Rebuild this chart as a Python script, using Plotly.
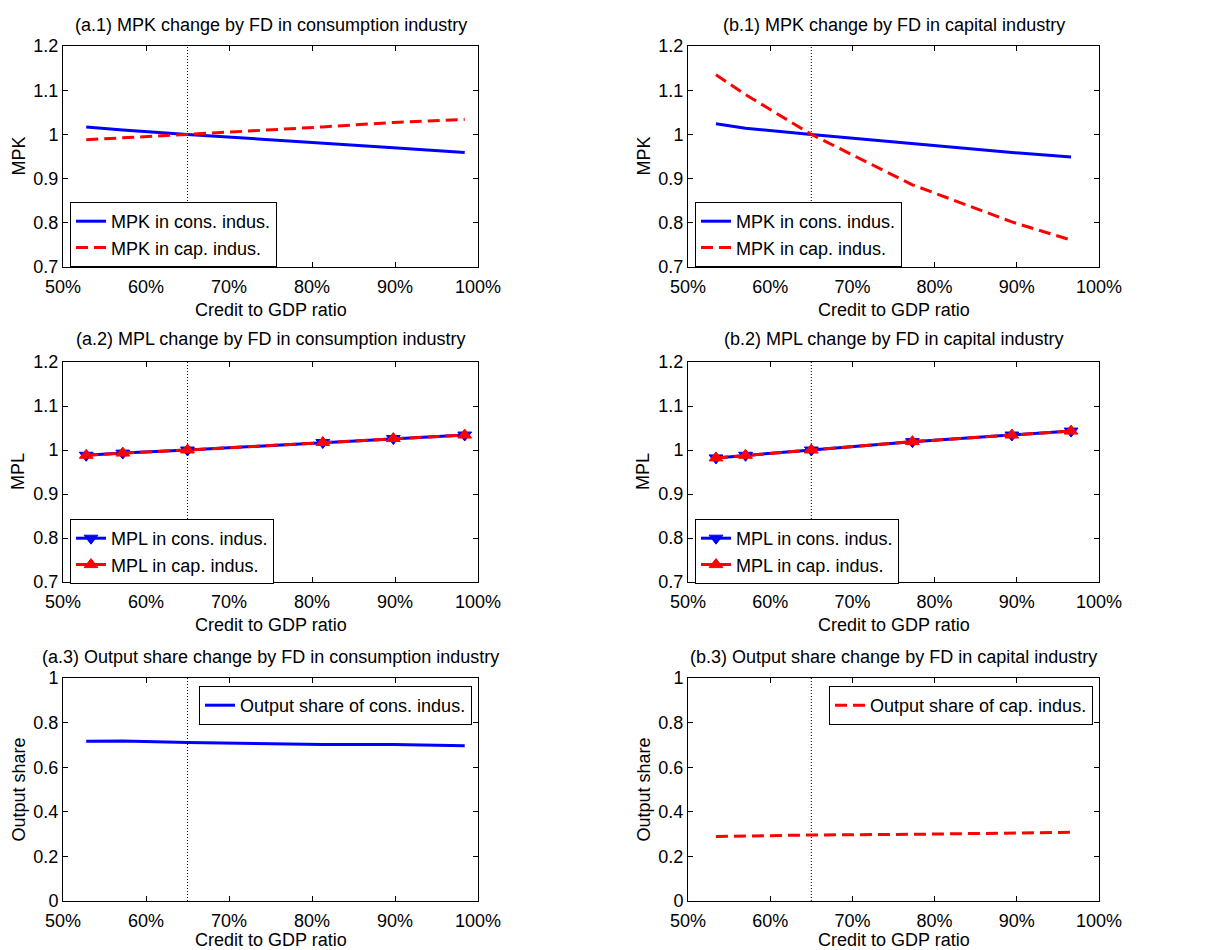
import plotly.graph_objects as go

# Credit-to-GDP ratio (%) at each simulated point
credit_a = [52.8, 57.2, 65.0, 81.3, 89.8, 98.4]
credit_b = [53.4, 57.0, 65.0, 77.3, 89.4, 96.6]
baseline_credit = 65.0

# (a) FD in consumption industry
mpk_cons_a = [1.017, 1.010, 1.000, 0.981, 0.970, 0.959]
mpk_cap_a = [0.988, 0.992, 1.000, 1.017, 1.027, 1.034]
mpl_cons_a = [0.988, 0.993, 1.000, 1.017, 1.026, 1.034]
mpl_cap_a = [0.988, 0.993, 1.000, 1.017, 1.026, 1.034]
share_cons_a = [0.716, 0.717, 0.711, 0.702, 0.702, 0.696]

# (b) FD in capital industry
mpk_cons_b = [1.024, 1.014, 1.000, 0.979, 0.959, 0.949]
mpk_cap_b = [1.135, 1.090, 1.000, 0.886, 0.802, 0.761]
mpl_cons_b = [0.982, 0.988, 1.000, 1.019, 1.034, 1.043]
mpl_cap_b = [0.982, 0.988, 1.000, 1.019, 1.034, 1.043]
share_cap_b = [0.289, 0.291, 0.296, 0.299, 0.304, 0.308]

titles = [
    "(a.1) MPK change by FD in consumption industry",
    "(b.1) MPK change by FD in capital industry",
    "(a.2) MPL change by FD in consumption industry",
    "(b.2) MPL change by FD in capital industry",
    "(a.3) Output share change by FD in consumption industry",
    "(b.3) Output share change by FD in capital industry",
]
x_label = "Credit to GDP ratio"
y_labels = ["MPK", "MPK", "MPL", "MPL", "Output share", "Output share"]
x_ticks = [50, 60, 70, 80, 90, 100]
x_tick_text = ["50%", "60%", "70%", "80%", "90%", "100%"]

W, H = 1205, 950
FONT = "Liberation Sans, Arial, Helvetica, sans-serif"
FS = 18
BLUE = "#0000ff"
RED = "#ff0000"
DASH = "12px,6px"

# panel boxes in pixels: (left, right) per column, (top, bottom) per row
cols_px = [(63, 478), (688, 1099)]
rows_px = [(46, 267), (362, 582), (678, 901)]
xlabel_offset = [43, 43, 39]


def px_x(v):
    return v / W


def px_y(v):
    return 1 - v / H


fig = go.Figure()

# axis ids in panel order a.1, b.1, a.2, b.2, a.3, b.3
panels = []
for r, (top, bot) in enumerate(rows_px):
    for c, (left, right) in enumerate(cols_px):
        panels.append(dict(r=r, c=c, top=top, bot=bot, left=left, right=right))

for i, p in enumerate(panels):
    n = i + 1
    xa = "xaxis" if n == 1 else f"xaxis{n}"
    ya = "yaxis" if n == 1 else f"yaxis{n}"
    ymin, ymax, dy = (0.7, 1.2, 0.1) if p["r"] < 2 else (0, 1, 0.2)
    fig.layout[xa] = dict(
        domain=[px_x(p["left"]), px_x(p["right"])],
        anchor=f"y{n}" if n > 1 else "y",
        range=[50, 100], tickmode="array", tickvals=x_ticks, ticktext=x_tick_text,
        ticks="inside", ticklen=5, tickcolor="black", ticklabelstandoff=3,
        showline=True, linecolor="black", linewidth=1, mirror="ticks",
        showgrid=False, zeroline=False, automargin=False,
        tickfont=dict(family=FONT, size=FS, color="black"),
    )
    fig.layout[ya] = dict(
        domain=[px_y(p["bot"]), px_y(p["top"])],
        anchor=f"x{n}" if n > 1 else "x",
        range=[ymin, ymax], tick0=ymin, dtick=dy,
        ticks="inside", ticklen=5, tickcolor="black",
        showline=True, linecolor="black", linewidth=1, mirror="ticks",
        showgrid=False, zeroline=False, automargin=False,
        tickfont=dict(family=FONT, size=FS, color="black"),
    )


def add_line(n, x, y, name, color, dash, legend, group, symbol=None):
    kw = {}
    mode = "lines"
    if symbol:
        mode = "lines+markers"
        kw["marker"] = dict(symbol=symbol, size=12, color=color,
                            line=dict(width=1, color=color))
    fig.add_trace(go.Scatter(
        x=x, y=y, name=name, mode=mode,
        line=dict(color=color, width=3, dash=dash),
        xaxis="x" if n == 1 else f"x{n}",
        yaxis="y" if n == 1 else f"y{n}",
        legend=legend, legendgroup=group, **kw,
    ))


add_line(1, credit_a, mpk_cons_a, "MPK in cons. indus.", BLUE, "solid", "legend", "a1c")
add_line(1, credit_a, mpk_cap_a, "MPK in cap. indus.", RED, DASH, "legend", "a1k")
add_line(2, credit_b, mpk_cons_b, "MPK in cons. indus.", BLUE, "solid", "legend2", "b1c")
add_line(2, credit_b, mpk_cap_b, "MPK in cap. indus.", RED, DASH, "legend2", "b1k")
add_line(3, credit_a, mpl_cons_a, "MPL in cons. indus.", BLUE, "solid", "legend3", "a2c", "triangle-down")
add_line(3, credit_a, mpl_cap_a, "MPL in cap. indus.", RED, DASH, "legend3", "a2k", "triangle-up")
add_line(4, credit_b, mpl_cons_b, "MPL in cons. indus.", BLUE, "solid", "legend4", "b2c", "triangle-down")
add_line(4, credit_b, mpl_cap_b, "MPL in cap. indus.", RED, DASH, "legend4", "b2k", "triangle-up")
add_line(5, credit_a, share_cons_a, "Output share of cons. indus.", BLUE, "solid", "legend5", "a3c")
add_line(6, credit_b, share_cap_b, "Output share of cap. indus.", RED, DASH, "legend6", "b3k")

# dotted reference line at the baseline credit ratio
shapes = []
for i in range(6):
    n = i + 1
    shapes.append(dict(
        type="line", layer="below",
        xref="x" if n == 1 else f"x{n}",
        yref="y domain" if n == 1 else f"y{n} domain",
        x0=baseline_credit, x1=baseline_credit, y0=0, y1=1,
        line=dict(color="black", width=1, dash="1px,2px"),
    ))

annotations = []
title_y = [25, 339, 657]
for i, p in enumerate(panels):
    cx = (p["left"] + p["right"]) / 2
    annotations.append(dict(
        text=titles[i], xref="paper", yref="paper",
        x=px_x(cx), y=px_y(title_y[p["r"]]), xanchor="center", yanchor="middle",
        showarrow=False, font=dict(family=FONT, size=FS, color="black"),
    ))
    annotations.append(dict(
        text=x_label, xref="paper", yref="paper",
        x=px_x(cx), y=px_y(p["bot"] + xlabel_offset[p["r"]]),
        xanchor="center", yanchor="middle",
        showarrow=False, font=dict(family=FONT, size=FS, color="black"),
    ))
    annotations.append(dict(
        text=y_labels[i], xref="paper", yref="paper", textangle=-90,
        x=px_x(p["left"] - 45), y=px_y((p["top"] + p["bot"]) / 2),
        xanchor="center", yanchor="middle",
        showarrow=False, font=dict(family=FONT, size=FS, color="black"),
    ))


def legend_box(x, y, xanchor):
    return dict(
        x=x, y=y, xanchor=xanchor, yanchor="top", xref="paper", yref="paper",
        bgcolor="white", bordercolor="black", borderwidth=1,
        font=dict(family=FONT, size=FS, color="black"),
        tracegroupgap=5, traceorder="normal",
    )


fig.update_layout(
    width=W, height=H,
    margin=dict(l=0, r=0, t=0, b=0, pad=0, autoexpand=False),
    paper_bgcolor="white", plot_bgcolor="white",
    font=dict(family=FONT, size=FS, color="black"),
    showlegend=True,
    legend=legend_box(px_x(70), px_y(202), "left"),
    legend2=legend_box(px_x(695), px_y(202), "left"),
    legend3=legend_box(px_x(70), px_y(519), "left"),
    legend4=legend_box(px_x(695), px_y(519), "left"),
    legend5=legend_box(px_x(472), px_y(686), "right"),
    legend6=legend_box(px_x(1093), px_y(686), "right"),
    shapes=shapes,
    annotations=annotations,
)

fig.write_html("out.html")
